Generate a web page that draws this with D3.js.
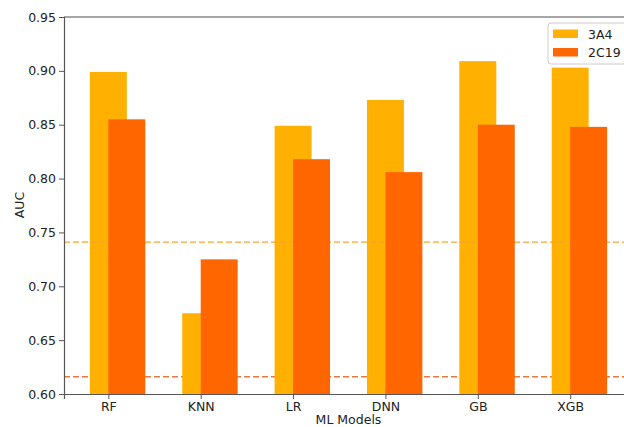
<!DOCTYPE html>
<html>
<head>
<meta charset="utf-8">
<script src="https://cdn.jsdelivr.net/npm/d3@7"></script>
<style>
  body { margin: 0; background: #fff; }
  svg { display: block; font-family: "DejaVu Sans", sans-serif; }
</style>
</head>
<body>
<div id="chart"></div>
<script>
const models = ['RF', 'KNN', 'LR', 'DNN', 'GB', 'XGB'];
const auc3A4 = [0.899, 0.675, 0.849, 0.873, 0.909, 0.903];
const auc2C19 = [0.855, 0.725, 0.818, 0.806, 0.850, 0.848];
const seriesNames = ['3A4', '2C19'];
const baseline3A4 = 0.741;
const baseline2C19 = 0.616;
const yTicks = [0.60, 0.65, 0.70, 0.75, 0.80, 0.85, 0.90, 0.95];

const W = 624, H = 427;
const colors = { '3A4': '#FFB000', '2C19': '#FF6600' };

const svg = d3.select('#chart').append('svg')
    .attr('width', W).attr('height', H);

// axes box: left edge 64, right edge just past the window (clipped like the original)
const x = d3.scaleLinear().domain([-0.48, 5.68]).range([64, 633]);
const y = d3.scaleLinear().domain([0.60, 0.95]).range([394, 17]);
const barW = x(0.4) - x(0);

const g = svg.append('g');

// 2C19 baseline sits behind everything
g.append('line')
    .attr('x1', x(-0.48)).attr('x2', x(5.68))
    .attr('y1', y(baseline2C19)).attr('y2', y(baseline2C19))
    .attr('stroke', '#E8763F').attr('stroke-width', 1.3)
    .attr('stroke-dasharray', '6,3');

// 3A4 bars, centered on tick
g.selectAll('rect.a')
    .data(auc3A4)
    .enter()
    .append('rect')
    .attr('class', 'a')
    .attr('x', (d, i) => x(i) - barW / 2)
    .attr('y', d => y(d))
    .attr('width', barW)
    .attr('height', d => y(0.60) - y(d))
    .attr('fill', colors['3A4']);

// 3A4 baseline drawn over 3A4 bars
g.append('line')
    .attr('x1', x(-0.48)).attr('x2', x(5.68))
    .attr('y1', y(baseline3A4)).attr('y2', y(baseline3A4))
    .attr('stroke', '#F2A533').attr('stroke-width', 1.3)
    .attr('stroke-dasharray', '6,3');

// 2C19 bars, left edge at tick
g.selectAll('rect.b')
    .data(auc2C19)
    .enter()
    .append('rect')
    .attr('class', 'b')
    .attr('x', (d, i) => x(i))
    .attr('y', d => y(d))
    .attr('width', barW)
    .attr('height', d => y(0.60) - y(d))
    .attr('fill', colors['2C19']);

// spines
svg.append('line')
    .attr('x1', 64).attr('x2', W).attr('y1', 17).attr('y2', 17)
    .attr('stroke', '#888').attr('stroke-width', 1.3);

// y axis
const yAxis = svg.append('g')
    .attr('transform', 'translate(64,0)')
    .call(d3.axisLeft(y).tickValues(yTicks).tickFormat(d3.format('.2f')).tickSize(5).tickPadding(3));
yAxis.select('.domain').attr('stroke', '#555').attr('stroke-width', 1.2);
yAxis.selectAll('.tick line').attr('stroke', '#555');
yAxis.selectAll('text').attr('font-size', 12.5).attr('fill', '#222')
    .attr('font-family', '"DejaVu Sans", sans-serif');

// x axis
const xAxis = svg.append('g')
    .attr('transform', 'translate(0,394)')
    .call(d3.axisBottom(x).tickValues(d3.range(models.length)).tickFormat(i => models[i]).tickSize(5).tickPadding(3));
xAxis.select('.domain').attr('stroke', '#555').attr('stroke-width', 1.2);
xAxis.selectAll('.tick line').attr('stroke', '#555');
xAxis.selectAll('text').attr('font-size', 12.5).attr('fill', '#222')
    .attr('font-family', '"DejaVu Sans", sans-serif');

// axis labels
svg.append('text')
    .attr('x', (64 + 633) / 2).attr('y', 424)
    .attr('text-anchor', 'middle')
    .attr('font-size', 12.5).attr('fill', '#222')
    .text('ML Models');

svg.append('text')
    .attr('transform', 'translate(24,205) rotate(-90)')
    .attr('text-anchor', 'middle')
    .attr('font-size', 12.5).attr('fill', '#222')
    .text('AUC');

// legend (clipped at the window edge like the original)
const legend = svg.append('g').attr('transform', 'translate(548,23)');
legend.append('rect')
    .attr('x', 0).attr('y', 0).attr('width', 100).attr('height', 41)
    .attr('rx', 3)
    .attr('fill', '#fff').attr('fill-opacity', 0.85)
    .attr('stroke', '#ccc').attr('stroke-width', 1);
seriesNames.forEach(function(name, i) {
    legend.append('rect')
        .attr('x', 5).attr('y', 6.5 + i * 18.5)
        .attr('width', 25).attr('height', 8.5)
        .attr('fill', colors[name]);
    legend.append('text')
        .attr('x', 40).attr('y', 15.5 + i * 18.5)
        .attr('font-size', 12.5).attr('fill', '#222')
        .text(name);
});
</script>
</body>
</html>
